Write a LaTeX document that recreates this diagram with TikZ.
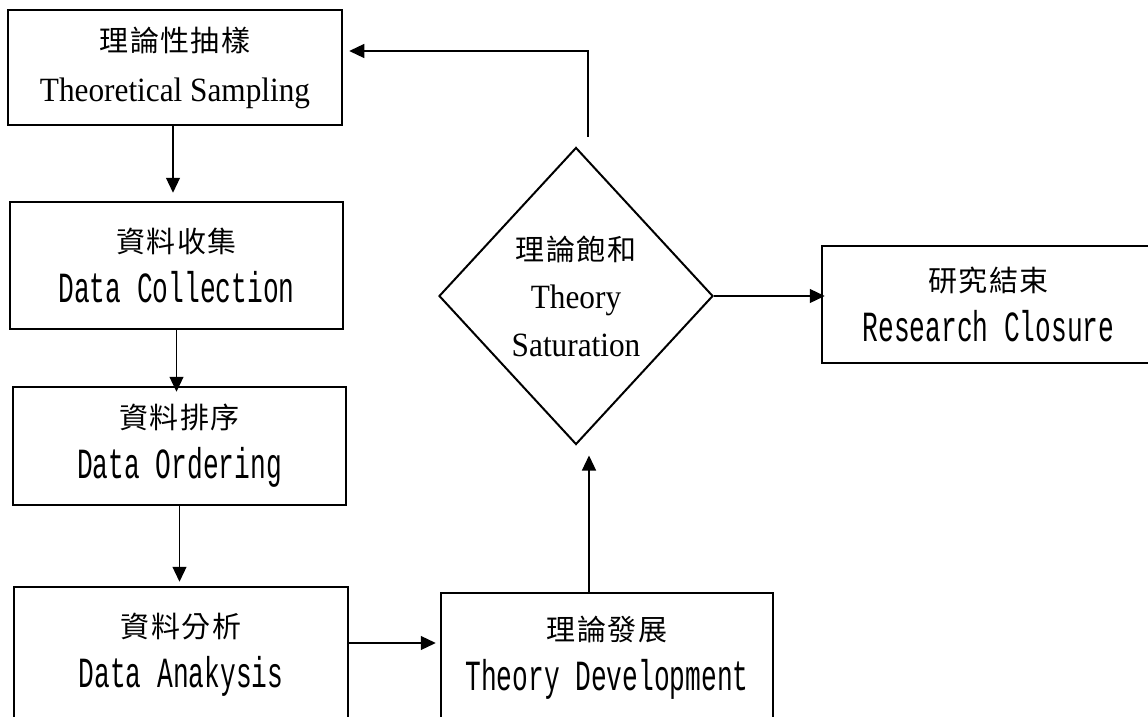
\documentclass[tikz,border=0pt]{standalone}
\usepackage{fontspec}
\setmainfont{Liberation Serif}
\newfontfamily\cjk[LetterSpace=5]{Noto Sans CJK TC}
\newfontfamily\tallserif[FakeStretch=0.92]{Liberation Serif}
\newfontfamily\mingmono[FakeStretch=0.61]{Liberation Mono}
\usetikzlibrary{arrows.meta,shapes.geometric}

\newcommand{\zh}[1]{{\cjk\fontsize{29}{50}\selectfont #1}}
\newcommand{\en}[1]{{\tallserif\fontsize{34}{50}\selectfont #1}}
\newcommand{\mo}[1]{{\mingmono\fontsize{43}{50}\selectfont #1}}

\tikzset{
  stagebox/.style={draw, line width=2.5pt, rectangle, align=center, inner sep=0pt,
                   font=\fontsize{30}{50}\selectfont},
  arr/.style={-{Triangle[length=15pt,width=14pt]}, line width=1.2pt}
}

\begin{document}
\begin{tikzpicture}[x=1pt,y=-1pt]

    % --- Frame ---
    \useasboundingbox (0,0) rectangle (1148,717);
    \clip (0,0) rectangle (1148,717);

    % --- Boxes ---
    % Left column, top to bottom
    \node[stagebox, minimum width=334pt, minimum height=115pt] (sampling) at (175,67.5)
        {\zh{理論性抽樣}\\\en{Theoretical Sampling}};
    \node[stagebox, minimum width=333pt, minimum height=127pt] (collect) at (176.5,265.5)
        {\zh{資料收集}\\\mo{Data Collection}};
    \node[stagebox, minimum width=333pt, minimum height=118pt] (order) at (179.5,446)
        {\zh{資料排序}\\\mo{Data Ordering}};
    \node[stagebox, minimum width=334pt, minimum height=135pt] (analyse) at (181,654.5)
        {\zh{資料分析}\\\mo{Data Anakysis}};

    % Right side
    \node[stagebox, minimum width=332pt, minimum height=129pt] (develop) at (607,657.5)
        {\zh{理論發展}\\\mo{Theory Development}};
    \node[stagebox, minimum width=333pt, minimum height=117pt] (closure) at (988.5,304.5)
        {\zh{研究結束}\\\mo{Research Closure}};

    % --- Decision ---
    \node[draw, diamond, line width=2pt, inner sep=0pt, align=center,
          font=\fontsize{30}{48}\selectfont,
          minimum width=274pt, minimum height=297pt] (saturate) at (576,296)
        {\zh{理論飽和}\\\en{Theory}\\\en{Saturation}};

    % --- Arrows ---
    \draw[arr, shorten >=8pt] ([xshift=-2pt]sampling.south) -- ([xshift=-2pt]sampling.south |- collect.north);
    \draw[arr, shorten >=-6pt] (collect.south) -- (collect.south |- order.north);
    \draw[arr, shorten >=4pt] (order.south) -- (order.south |- analyse.north);
    \draw[arr, shorten >=4pt] ([yshift=11.5pt]analyse.east) -- ([yshift=11.5pt]analyse.east -| develop.west);
    \draw[arr, shorten >=10pt] ([xshift=-18pt]develop.north) -- ([xshift=-18pt]develop.north |- saturate.south);
    \draw[arr, shorten >=-4pt] (saturate.east) -- (saturate.east -| closure.west);

    % Feedback loop back to sampling
    \coordinate (loop) at (588,51);
    \draw[arr, shorten >=6pt] ([xshift=12pt,yshift=10pt]saturate.north) -- (loop) -- (loop -| sampling.east);

\end{tikzpicture}
\end{document}
